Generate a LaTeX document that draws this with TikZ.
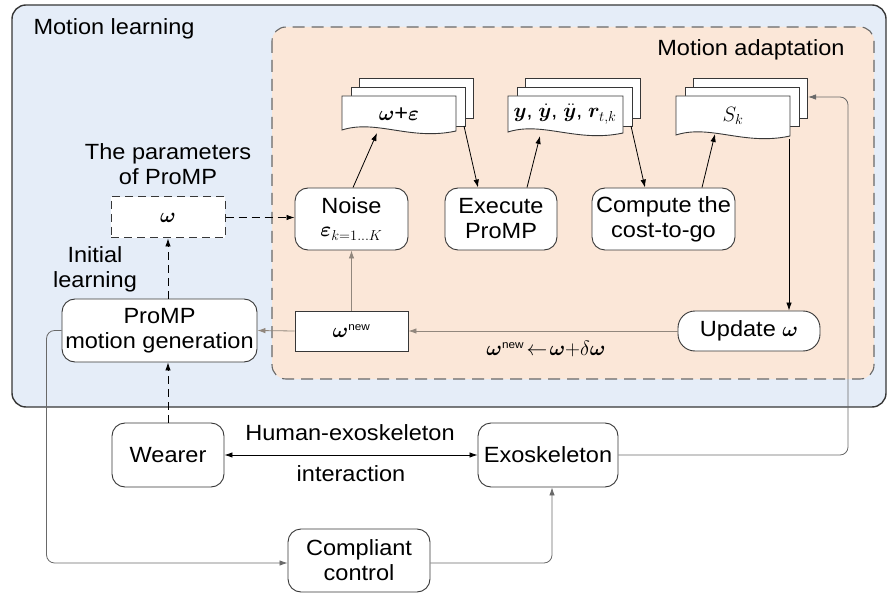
\documentclass[tikz,border=0pt]{standalone}
\usepackage{amsmath,bm}
\usepackage{fontspec}
\setmainfont{Liberation Sans}[FakeStretch=1.07]
\usetikzlibrary{arrows.meta}
\definecolor{bluebg}{RGB}{229,237,248}
\definecolor{peach}{RGB}{251,231,216}
\definecolor{edge}{RGB}{55,55,55}
\definecolor{tanline}{RGB}{145,135,125}
\definecolor{greyline}{RGB}{105,105,105}
\newcommand\docstack[4]{%
  \filldraw[fill=white,draw=edge,line width=0.9pt] (#1+17,#3-18) rectangle (#2+17,#3+22);
  \filldraw[fill=white,draw=edge,line width=0.9pt] (#1+9,#3-9) rectangle (#2+9,#3+30);
  \filldraw[fill=white,draw=edge,line width=0.9pt] (#1,#4) -- (#1,#3) -- (#2,#3) -- (#2,#4+1)
     .. controls (#1*0.4+#2*0.6,#4+11) and (#1*0.7+#2*0.3,#4-11) .. (#1,#4) -- cycle;
}
\newcommand\wnewsup{^{\scriptscriptstyle\text{new}}}
\begin{document}
\begin{tikzpicture}[x=1pt,y=-1pt,
  font=\fontsize{22}{25}\selectfont,
  arr/.style={-{Latex[length=8pt,width=5.5pt]},line width=0.8pt},
  rbox/.style={draw=edge,fill=white,line width=0.9pt,rounded corners=13pt,inner sep=0pt,align=center},
  sbox/.style={draw=edge,fill=white,line width=0.9pt,inner sep=0pt,align=center}]
\useasboundingbox (0,0) rectangle (888,593);
% containers
\filldraw[fill=bluebg,draw=edge,line width=1.4pt,rounded corners=14pt] (12,5) rectangle (886,407);
\filldraw[fill=peach,draw=greyline,line width=1.1pt,dash pattern=on 12pt off 7pt,rounded corners=14pt] (272,27) rectangle (874,379);
\node[anchor=west] (tml) at (30,29) {Motion learning};
\node[anchor=east] (tma) at (848,50) {Motion adaptation};
% document stacks
\docstack{342}{456}{96}{130}
\node (d1) at (399,114) {$\bm{\omega}$+$\bm{\varepsilon}$};
\docstack{508}{623}{96}{132}
\node (d2) at (565,114) {\fontsize{20}{22}\selectfont$\bm{y}$, $\dot{\bm{y}}$, $\ddot{\bm{y}}$, $\bm{r}_{t,k}$};
\docstack{676}{790}{96}{135}
\node (d3) at (733,116) {$S_k$};
\coordinate (w1in) at (377,133);
\coordinate (w1out) at (464,126);
\coordinate (w2in) at (540,136);
\coordinate (w2out) at (631,126);
\coordinate (w3in) at (715,134);
\coordinate (w3out) at (789,139);
\coordinate (w3back) at (808,97);
\coordinate (ret) at (848,97);
% nodes
\node[rbox,minimum width=113pt,minimum height=62pt] (noise) at (351.5,219) {Noise\\[-2pt]$\bm{\varepsilon}_{k=1\ldots K}$};
\node[rbox,minimum width=112pt,minimum height=62pt] (execute) at (501,219) {Execute\\ProMP};
\node[rbox,minimum width=143pt,minimum height=62pt] (compute) at (663.5,219) {Compute the\\cost-to-go};
\node[sbox,dashed,dash pattern=on 8pt off 5pt,line width=1pt,minimum width=114pt,minimum height=41pt] (omega) at (168,217.5) {$\bm{\omega}$};
\node[align=center] (tparam) at (168,164) {The parameters\\of ProMP};
\node[align=center] (tinit) at (95,269) {Initial\\learning};
\node[rbox,minimum width=195pt,minimum height=63pt] (promp) at (159.5,330.5) {ProMP\\motion generation};
\node[sbox,minimum width=113pt,minimum height=40pt] (wnew) at (351.5,331) {$\bm{\omega}\wnewsup$};
\node[rbox,rounded corners=17pt,minimum width=142pt,minimum height=40pt] (update) at (749,331) {Update $\bm{\omega}$};
\node[rbox,minimum width=112pt,minimum height=64pt] (wearer) at (168,455) {Wearer};
\node[rbox,minimum width=140pt,minimum height=64pt] (exo) at (548,455) {Exoskeleton};
\node[rbox,minimum width=142pt,minimum height=63pt] (compliant) at (359,560.5) {Compliant\\control};
\node (tlabel) at (546,349) {$\bm{\omega}\wnewsup\!\leftarrow\!\bm{\omega}{+}\delta\bm{\omega}$};
\node (thum) at (350,433) {Human-exoskeleton};
\node (tint) at (351,474) {interaction};
% connectors
\draw[arr,dashed,dash pattern=on 8pt off 5pt] (omega.east) -- (omega.east -| noise.west);
\draw[arr,dashed,dash pattern=on 8pt off 5pt] (omega.south |- promp.north) -- (omega.south);
\draw[arr,dashed,dash pattern=on 8pt off 5pt] (wearer.north) -- (wearer.north |- promp.south);
\draw[arr] ([xshift=1.5pt]noise.north) -- (w1in);
\draw[arr] (w1out) -- ([xshift=-23pt]execute.north);
\draw[arr] ([xshift=26pt]execute.north) -- (w2in);
\draw[arr] (w2out) -- ([xshift=-18.5pt]compute.north);
\draw[arr] ([xshift=38.5pt]compute.north) -- (w3in);
\draw[arr] (w3out) -- (w3out |- update.north);
\draw[arr,draw=tanline] (update.west) -- (wnew.east);
\draw[arr,draw=tanline] (wnew.west) -- (promp.east);
\draw[arr,draw=tanline] (wnew.north) -- (noise.south);
\draw[arr,draw=greyline,rounded corners=8pt] (exo.east) -- (exo.east -| ret) -- (ret) -- (w3back);
\draw[arr,draw=greyline,rounded corners=8pt] (promp.west) -- ++(-15,0) |- ([yshift=-2.5pt]compliant.west);
\draw[arr,draw=greyline,rounded corners=8pt] ([yshift=-2.5pt]compliant.east) -| ([xshift=4pt]exo.south);
\draw[{Latex[length=8pt,width=5.5pt]}-{Latex[length=8pt,width=5.5pt]},line width=0.8pt] (wearer.east) -- (exo.west);
\end{tikzpicture}
\end{document}
